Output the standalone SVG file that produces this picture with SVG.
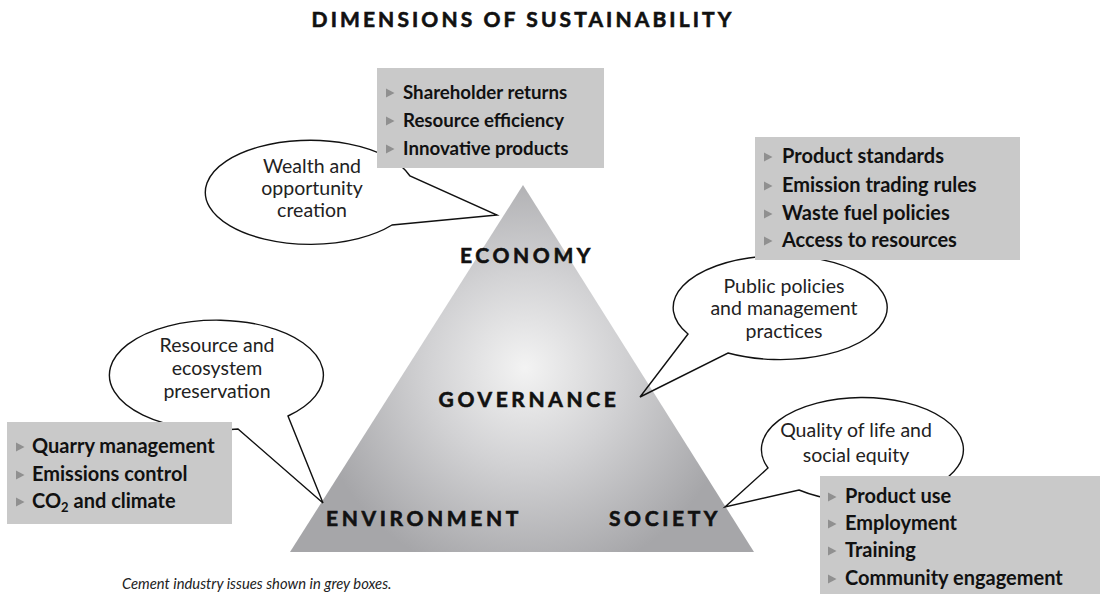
<svg xmlns="http://www.w3.org/2000/svg" width="1105" height="596" viewBox="0 0 1105 596">
  <defs>
    <radialGradient id="pyramidFill" gradientUnits="userSpaceOnUse" cx="525" cy="368" r="215">
      <stop offset="0" stop-color="#f3f3f3"/>
      <stop offset="0.45" stop-color="#d2d2d4"/>
      <stop offset="1" stop-color="#a6a6a9"/>
    </radialGradient>
    <polygon id="bullet" points="0,-4.5 8.5,0 0,4.5" fill="#909090"/>
  </defs>
  <style>
    .title { font-family: Lato, "Open Sans", sans-serif; font-weight: 700; font-size: 21px; letter-spacing: 3.1px; fill: #111; stroke: #111; stroke-width: 0.6px; }
    .dim { font-family: Lato, "Open Sans", sans-serif; font-weight: 700; font-size: 21px; letter-spacing: 3.6px; fill: #111; stroke: #111; stroke-width: 0.6px; text-anchor: middle; }
    .bubble { fill: none; stroke: #111; stroke-width: 1.4; stroke-linejoin: miter; }
    .btext { font-family: Lato, "Open Sans", sans-serif; font-size: 19.5px; fill: #222; text-anchor: middle; }
    .box { fill: #c9c9c9; }
    .item { font-family: Lato, "Open Sans", sans-serif; font-weight: 700; font-size: 20px; fill: #111; }
    .small { font-size: 18.7px; }
    .note { font-family: Lato, "Open Sans", sans-serif; font-style: italic; font-size: 14.8px; fill: #222; }
  </style>

  <rect width="1105" height="596" fill="#ffffff"/>

  <text class="title" x="523" y="27" text-anchor="middle">DIMENSIONS OF SUSTAINABILITY</text>

  <!-- the pyramid with its four dimensions -->
  <g id="pyramid">
    <polygon points="523,185 290,552 754,552" fill="url(#pyramidFill)"/>
    <text class="dim" x="527" y="263">ECONOMY</text>
    <text class="dim" x="529" y="407">GOVERNANCE</text>
    <text class="dim" x="424" y="526">ENVIRONMENT</text>
    <text class="dim" x="665" y="526">SOCIETY</text>
  </g>

  <!-- speech-bubble callouts pointing at the pyramid -->
  <g id="callouts">
    <g id="bubble-economy">
      <path class="bubble" d="M392,225 A105,52 0 1 1 410,176 L497,215 Z"/>
      <text class="btext" x="312" y="173">Wealth and</text>
      <text class="btext" x="312" y="195">opportunity</text>
      <text class="btext" x="312" y="217">creation</text>
    </g>
    <g id="bubble-governance">
      <path class="bubble" d="M728,353 A107,52 0 1 0 688,334 L640,397 Z"/>
      <text class="btext" x="784" y="293">Public policies</text>
      <text class="btext" x="784" y="315">and management</text>
      <text class="btext" x="784" y="338">practices</text>
    </g>
    <g id="bubble-environment">
      <path class="bubble" d="M238,429 A107,55 0 1 1 288,416 L323,503 Z"/>
      <text class="btext" x="217" y="352">Resource and</text>
      <text class="btext" x="217" y="375">ecosystem</text>
      <text class="btext" x="217" y="398">preservation</text>
    </g>
    <g id="bubble-society">
      <path class="bubble" d="M799,490 A101,52 0 1 0 768,468 L725,507 Z"/>
      <text class="btext" x="856" y="437">Quality of life and</text>
      <text class="btext" x="856" y="462">social equity</text>
    </g>
  </g>

  <!-- grey boxes listing cement industry issues -->
  <g id="box-economy">
    <rect class="box" x="377" y="68" width="227" height="100"/>
    <use href="#bullet" x="386" y="93"/>
    <use href="#bullet" x="386" y="121"/>
    <use href="#bullet" x="386" y="149"/>
    <text class="item small" x="403" y="99">Shareholder returns</text>
    <text class="item small" x="403" y="127">Resource efficiency</text>
    <text class="item small" x="403" y="155">Innovative products</text>
  </g>

  <g id="box-governance">
    <rect class="box" x="755" y="137" width="265" height="123"/>
    <use href="#bullet" x="764" y="157"/>
    <use href="#bullet" x="764" y="186"/>
    <use href="#bullet" x="764" y="214"/>
    <use href="#bullet" x="764" y="241"/>
    <text class="item" x="782" y="163">Product standards</text>
    <text class="item" x="782" y="192">Emission trading rules</text>
    <text class="item" x="782" y="220">Waste fuel policies</text>
    <text class="item" x="782" y="247">Access to resources</text>
  </g>

  <g id="box-environment">
    <rect class="box" x="7" y="422" width="225" height="102"/>
    <use href="#bullet" x="16" y="447"/>
    <use href="#bullet" x="16" y="475"/>
    <use href="#bullet" x="16" y="502"/>
    <text class="item" x="32" y="453">Quarry management</text>
    <text class="item" x="32" y="481">Emissions control</text>
    <text class="item" x="32" y="508">CO<tspan font-size="13" dy="4">2</tspan><tspan dy="-4"> and climate</tspan></text>
  </g>

  <g id="box-society">
    <rect class="box" x="820" y="476" width="280" height="118"/>
    <use href="#bullet" x="828" y="497"/>
    <use href="#bullet" x="828" y="524"/>
    <use href="#bullet" x="828" y="551"/>
    <use href="#bullet" x="828" y="579"/>
    <text class="item" x="845" y="503">Product use</text>
    <text class="item" x="845" y="530">Employment</text>
    <text class="item" x="845" y="557">Training</text>
    <text class="item" x="845" y="585">Community engagement</text>
  </g>

  <text class="note" x="122" y="589">Cement industry issues shown in grey boxes.</text>
</svg>
